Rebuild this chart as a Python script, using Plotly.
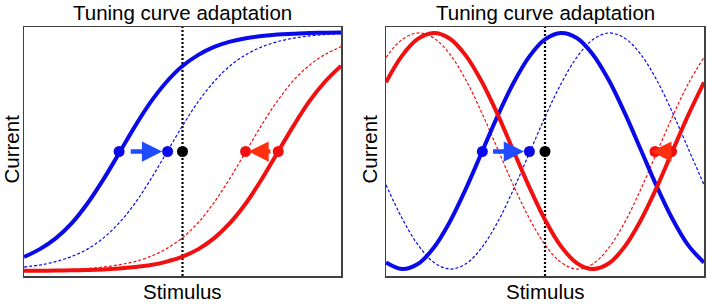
import plotly.graph_objects as go

# ---------------- data ----------------
x_grid = [0.00, 0.05, 0.10, 0.15, 0.20, 0.25, 0.30, 0.35, 0.40, 0.45, 0.50,
          0.55, 0.60, 0.65, 0.70, 0.75, 0.80, 0.85, 0.90, 0.95, 1.00]

# Left panel: sigmoid tuning curves
left_blue_solid = [0.077, 0.108, 0.151, 0.211, 0.291, 0.387, 0.493, 0.601, 0.699, 0.780, 0.843,
                   0.888, 0.920, 0.941, 0.955, 0.964, 0.970, 0.973, 0.976, 0.977, 0.978]
left_blue_dash = [0.036, 0.044, 0.058, 0.078, 0.108, 0.152, 0.213, 0.292, 0.389, 0.496, 0.603,
                  0.701, 0.781, 0.844, 0.889, 0.920, 0.941, 0.955, 0.964, 0.970, 0.973]
left_red_solid = [0.021, 0.021, 0.022, 0.023, 0.024, 0.026, 0.030, 0.036, 0.044, 0.058, 0.078,
                  0.108, 0.152, 0.213, 0.292, 0.389, 0.496, 0.603, 0.701, 0.781, 0.844]
left_red_dash = [0.022, 0.023, 0.024, 0.026, 0.030, 0.036, 0.045, 0.058, 0.079, 0.110, 0.154,
                 0.215, 0.296, 0.393, 0.500, 0.607, 0.704, 0.785, 0.846, 0.890, 0.921]

# Right panel: periodic tuning curves
right_blue_solid = [0.054, 0.028, 0.048, 0.113, 0.216, 0.347, 0.493, 0.640, 0.773, 0.880, 0.950,
                    0.976, 0.956, 0.891, 0.788, 0.657, 0.511, 0.364, 0.231, 0.124, 0.054]
right_blue_dash = [0.366, 0.233, 0.126, 0.055, 0.028, 0.048, 0.112, 0.214, 0.345, 0.491, 0.638,
                   0.771, 0.878, 0.949, 0.976, 0.956, 0.892, 0.790, 0.659, 0.513, 0.366]
right_red_solid = [0.778, 0.884, 0.952, 0.976, 0.954, 0.887, 0.783, 0.652, 0.505, 0.359, 0.226,
                   0.120, 0.052, 0.028, 0.050, 0.117, 0.221, 0.352, 0.499, 0.645, 0.778]
right_red_dash = [0.878, 0.949, 0.976, 0.956, 0.892, 0.790, 0.659, 0.513, 0.366, 0.233, 0.126,
                  0.055, 0.028, 0.048, 0.112, 0.214, 0.345, 0.491, 0.638, 0.771, 0.878]

stimulus_x = 0.5
dot_level = 0.5

left_blue_dots = [0.300, 0.453]
left_red_dots = [0.699, 0.802]
right_blue_dots = [0.303, 0.451]
right_red_dots = [0.846, 0.898]

# arrows: (tail, head)
left_blue_arrow = (0.332, 0.436)
left_red_arrow = (0.782, 0.708)
right_blue_arrow = (0.332, 0.434)
right_red_arrow = (0.886, 0.834)

title_text = "Tuning curve adaptation"
xlabel_text = "Stimulus"
ylabel_text = "Current"

# ---------------- styles ----------------
BLUE = "#0a0ae8"
RED = "#f01010"
BLUE_ARROW = "#1f4cff"
RED_ARROW = "#ff3010"
FONT = "Liberation Sans, Arial, sans-serif"
FS = 20.5

W, H = 708, 304


def px(xp):
    return xp / W


def py(yp):
    return 1 - yp / H


fig = go.Figure()


def add_panel(xa, ya, blue_solid, blue_dash, red_solid, red_dash, bdots, rdots, barrow, rarrow):
    fig.add_trace(go.Scatter(x=[stimulus_x, stimulus_x], y=[0, 1], mode="lines",
                             line=dict(color="black", width=2.2, dash="2px,2px"),
                             xaxis=xa, yaxis=ya, hoverinfo="skip"))
    fig.add_trace(go.Scatter(x=x_grid, y=blue_dash, mode="lines", line_shape="spline",
                             line=dict(color=BLUE, width=1.2, dash="3px,2px"),
                             xaxis=xa, yaxis=ya))
    fig.add_trace(go.Scatter(x=x_grid, y=red_dash, mode="lines", line_shape="spline",
                             line=dict(color=RED, width=1.2, dash="3px,2px"),
                             xaxis=xa, yaxis=ya))
    fig.add_trace(go.Scatter(x=x_grid, y=blue_solid, mode="lines", line_shape="spline",
                             line=dict(color=BLUE, width=4),
                             xaxis=xa, yaxis=ya))
    fig.add_trace(go.Scatter(x=x_grid, y=red_solid, mode="lines", line_shape="spline",
                             line=dict(color=RED, width=4),
                             xaxis=xa, yaxis=ya))
    fig.add_trace(go.Scatter(x=bdots, y=[dot_level] * len(bdots), mode="markers",
                             marker=dict(color=BLUE, size=11), xaxis=xa, yaxis=ya))
    fig.add_trace(go.Scatter(x=rdots, y=[dot_level] * len(rdots), mode="markers",
                             marker=dict(color=RED, size=11), xaxis=xa, yaxis=ya))
    fig.add_trace(go.Scatter(x=[stimulus_x], y=[dot_level], mode="markers",
                             marker=dict(color="black", size=11), xaxis=xa, yaxis=ya))
    for (tail, head), col in ((barrow, BLUE_ARROW), (rarrow, RED_ARROW)):
        fig.add_annotation(x=head, y=dot_level, ax=tail, ay=dot_level,
                           xref=xa, yref=ya, axref=xa, ayref=ya,
                           text="", showarrow=True, arrowhead=2, arrowsize=0.9,
                           arrowwidth=4.5, arrowcolor=col, standoff=0, startstandoff=0)


add_panel("x", "y", left_blue_solid, left_blue_dash, left_red_solid, left_red_dash,
          left_blue_dots, left_red_dots, left_blue_arrow, left_red_arrow)
add_panel("x2", "y2", right_blue_solid, right_blue_dash, right_red_solid, right_red_dash,
          right_blue_dots, right_red_dots, right_blue_arrow, right_red_arrow)

dom_y = [py(276), py(27)]
axis_common = dict(range=[0, 1], showgrid=False, zeroline=False, showticklabels=False,
                   ticks="", showline=True, mirror=True, linecolor="#404040", linewidth=1.5,
                   fixedrange=True)
fig.update_layout(
    width=W, height=H, margin=dict(l=0, r=0, t=0, b=0),
    paper_bgcolor="white", plot_bgcolor="white", showlegend=False,
    xaxis=dict(domain=[px(24), px(341)], anchor="y", **axis_common),
    yaxis=dict(domain=dom_y, anchor="x", **axis_common),
    xaxis2=dict(domain=[px(386), px(704)], anchor="y2", **axis_common),
    yaxis2=dict(domain=dom_y, anchor="x2", **axis_common),
    font=dict(family=FONT, color="black"),
)

for cx, ly in ((182.5, 11.5), (545, 369.5)):
    fig.add_annotation(x=px(cx), y=py(12), xref="paper", yref="paper", text=title_text,
                       showarrow=False, font=dict(size=FS, family=FONT), xanchor="center",
                       yanchor="middle")
    fig.add_annotation(x=px(cx), y=py(291), xref="paper", yref="paper", text=xlabel_text,
                       showarrow=False, font=dict(size=FS, family=FONT), xanchor="center",
                       yanchor="middle")
    fig.add_annotation(x=px(ly), y=py(149), xref="paper", yref="paper", text=ylabel_text,
                       showarrow=False, font=dict(size=FS, family=FONT), textangle=-90,
                       xanchor="center", yanchor="middle")

fig.write_html(
    "out.html",
    config={"displayModeBar": False, "staticPlot": True},
    post_script="document.body.style.margin='0';document.body.style.overflow='hidden';",
)
